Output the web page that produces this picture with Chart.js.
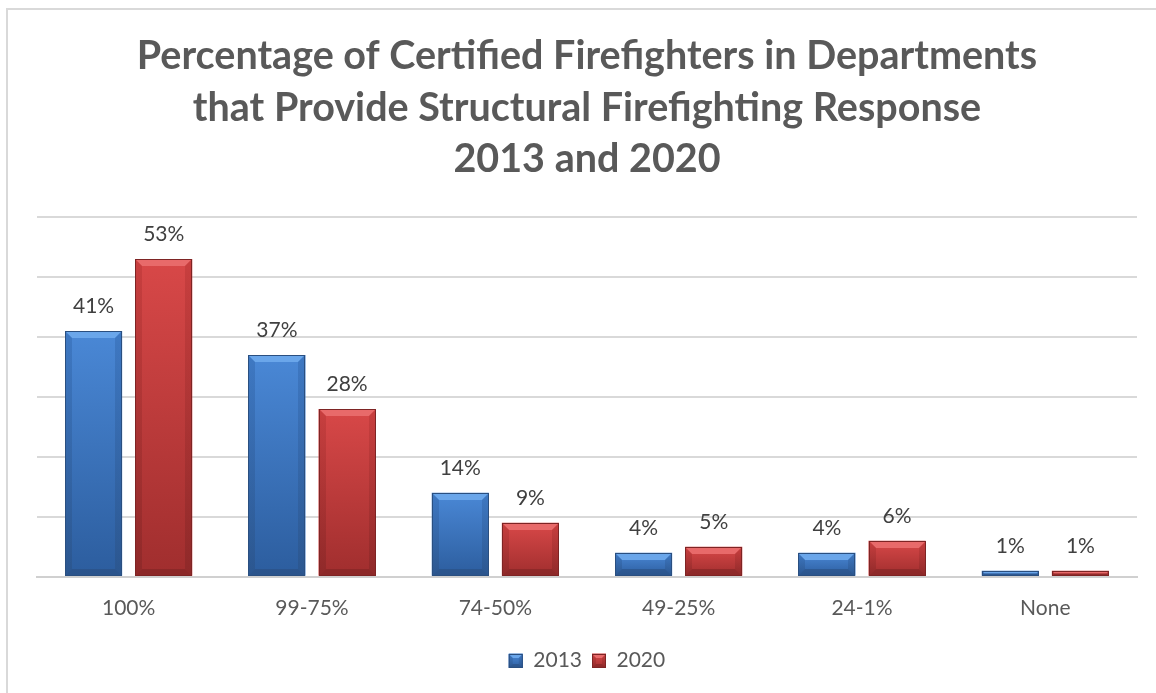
<!DOCTYPE html>
<html>
<head>
<meta charset="utf-8">
<script src="https://cdn.jsdelivr.net/npm/chart.js@4.4.1/dist/chart.umd.min.js"></script>
<style>
  html, body { margin: 0; padding: 0; background: #ffffff; }
  #wrap { position: relative; width: 1156px; height: 693px; }
</style>
</head>
<body>
<div id="wrap"><canvas id="chart" width="1156" height="693"></canvas></div>
<script>
// Share of certified firefighters per department bracket
const categories = ['100%', '99-75%', '74-50%', '49-25%', '24-1%', 'None'];
const values2013 = [41, 37, 14, 4, 4, 1];
const values2020 = [53, 28, 9, 5, 6, 1];
const seriesNames = ['2013', '2020'];
const titleLines = [
  'Percentage of Certified Firefighters in Departments',
  'that Provide Structural Firefighting Response',
  '2013 and 2020'
];

const FONT = 'Lato, "Open Sans", sans-serif';

// Shading palettes for the bevelled bars
const shades = {
  '2013': { base: '#3b78c6', top: '#6aa6ea', light: '#4a88d6', dark: '#2c5d9e', side: '#3369b0', edge: '#2a4f80' },
  '2020': { base: '#cc3b3b', top: '#e86a6a', light: '#d84848', dark: '#a02e2e', side: '#b83636', edge: '#7e2424' }
};

function bevelRect(ctx, x0, y0, x1, y1, pal, b) {
  const h = y1 - y0, w = x1 - x0;
  b = Math.max(0, Math.min(b, h / 2, w / 2));
  // body gradient
  const g = ctx.createLinearGradient(0, y0, 0, y1);
  g.addColorStop(0, pal.light);
  g.addColorStop(1, pal.dark);
  ctx.fillStyle = g;
  ctx.fillRect(x0, y0, w, h);
  if (b > 0.5) {
    // top facet
    ctx.fillStyle = pal.top;
    ctx.beginPath();
    ctx.moveTo(x0, y0); ctx.lineTo(x1, y0); ctx.lineTo(x1 - b, y0 + b); ctx.lineTo(x0 + b, y0 + b);
    ctx.closePath(); ctx.fill();
    // left / right facets
    const gs = ctx.createLinearGradient(0, y0, 0, y1);
    gs.addColorStop(0, pal.side);
    gs.addColorStop(1, pal.edge);
    ctx.fillStyle = gs;
    ctx.globalAlpha = 0.5;
    ctx.beginPath();
    ctx.moveTo(x0, y0); ctx.lineTo(x0 + b, y0 + b); ctx.lineTo(x0 + b, y1 - b); ctx.lineTo(x0, y1);
    ctx.closePath(); ctx.fill();
    ctx.beginPath();
    ctx.moveTo(x1, y0); ctx.lineTo(x1 - b, y0 + b); ctx.lineTo(x1 - b, y1 - b); ctx.lineTo(x1, y1);
    ctx.closePath(); ctx.fill();
    ctx.globalAlpha = 1;
    // bottom facet
    ctx.fillStyle = pal.edge;
    ctx.globalAlpha = 0.6;
    ctx.beginPath();
    ctx.moveTo(x0, y1); ctx.lineTo(x1, y1); ctx.lineTo(x1 - b, y1 - b); ctx.lineTo(x0 + b, y1 - b);
    ctx.closePath(); ctx.fill();
    ctx.globalAlpha = 1;
  }
  ctx.strokeStyle = pal.edge;
  ctx.lineWidth = 1;
  ctx.strokeRect(x0 + 0.5, y0 + 0.5, w - 1, h - 1);
}

// Frame lines along the top and left of the chart
const framePlugin = {
  id: 'frame',
  beforeDraw(chart) {
    const ctx = chart.ctx;
    ctx.save();
    ctx.fillStyle = '#ffffff';
    ctx.fillRect(0, 0, chart.width, chart.height);
    ctx.strokeStyle = '#d9d9d9';
    ctx.lineWidth = 2;
    ctx.beginPath();
    ctx.moveTo(7, chart.height);
    ctx.lineTo(7, 9);
    ctx.lineTo(chart.width, 9);
    ctx.stroke();
    ctx.restore();
  }
};

// Bevelled bars and value labels above each bar
const barStylePlugin = {
  id: 'barStyle',
  afterDatasetsDraw(chart) {
    const ctx = chart.ctx;
    ctx.save();
    chart.data.datasets.forEach((ds, di) => {
      const meta = chart.getDatasetMeta(di);
      const pal = shades[ds.label];
      meta.data.forEach((bar, i) => {
        const p = bar.getProps(['x', 'y', 'width', 'base'], true);
        const x0 = Math.round(p.x - p.width / 2), x1 = Math.round(p.x + p.width / 2);
        const y0 = Math.round(p.y), y1 = Math.round(p.base);
        if (y1 - y0 >= 1) bevelRect(ctx, x0, y0, x1, y1, pal, 7);
        ctx.fillStyle = '#404040';
        ctx.font = '21px ' + FONT;
        ctx.textAlign = 'center';
        ctx.textBaseline = 'middle';
        ctx.fillText(ds.data[i] + '%', p.x, p.y - 25);
      });
    });
    ctx.restore();
  },
  afterDraw(chart) {
    // bevelled legend swatches
    const legend = chart.legend;
    if (!legend || !legend.legendHitBoxes) return;
    const ctx = chart.ctx;
    ctx.save();
    legend.legendHitBoxes.forEach((hb, i) => {
      const pal = shades[chart.data.datasets[i].label];
      const bx = hb.left, by = hb.top + (hb.height - 14) / 2;
      bevelRect(ctx, bx, Math.round(by), bx + 14, Math.round(by) + 14, pal, 4);
    });
    ctx.restore();
  }
};

new Chart(document.getElementById('chart'), {
  type: 'bar',
  data: {
    labels: categories,
    datasets: [
      { label: seriesNames[0], data: values2013, backgroundColor: shades['2013'].base },
      { label: seriesNames[1], data: values2020, backgroundColor: shades['2020'].base }
    ]
  },
  options: {
    responsive: false,
    animation: false,
    devicePixelRatio: 1,
    layout: { padding: { left: 37, right: 19, top: 0, bottom: 12 } },
    datasets: { bar: { categoryPercentage: 0.765, barPercentage: 0.814 } },
    scales: {
      x: {
        grid: { display: false, drawTicks: false },
        border: { display: true, color: '#d0d0d0', width: 2 },
        ticks: { color: '#595959', font: { family: FONT, size: 21 }, padding: 19 }
      },
      y: {
        min: 0, max: 60,
        ticks: { display: false, stepSize: 10 },
        grid: { color: '#d9d9d9', lineWidth: 2, drawTicks: false },
        border: { display: false }
      }
    },
    plugins: {
      title: {
        display: true,
        text: titleLines,
        color: '#595959',
        font: { family: FONT, size: 39.5, weight: 'bold', lineHeight: 1.3 },
        padding: { top: 31, bottom: 32 }
      },
      legend: {
        position: 'bottom',
        labels: {
          color: '#595959',
          font: { family: FONT, size: 21 },
          boxWidth: 14, boxHeight: 14,
          padding: 10
        }
      },
      tooltip: { enabled: false }
    }
  },
  plugins: [framePlugin, barStylePlugin]
});
</script>
</body>
</html>
